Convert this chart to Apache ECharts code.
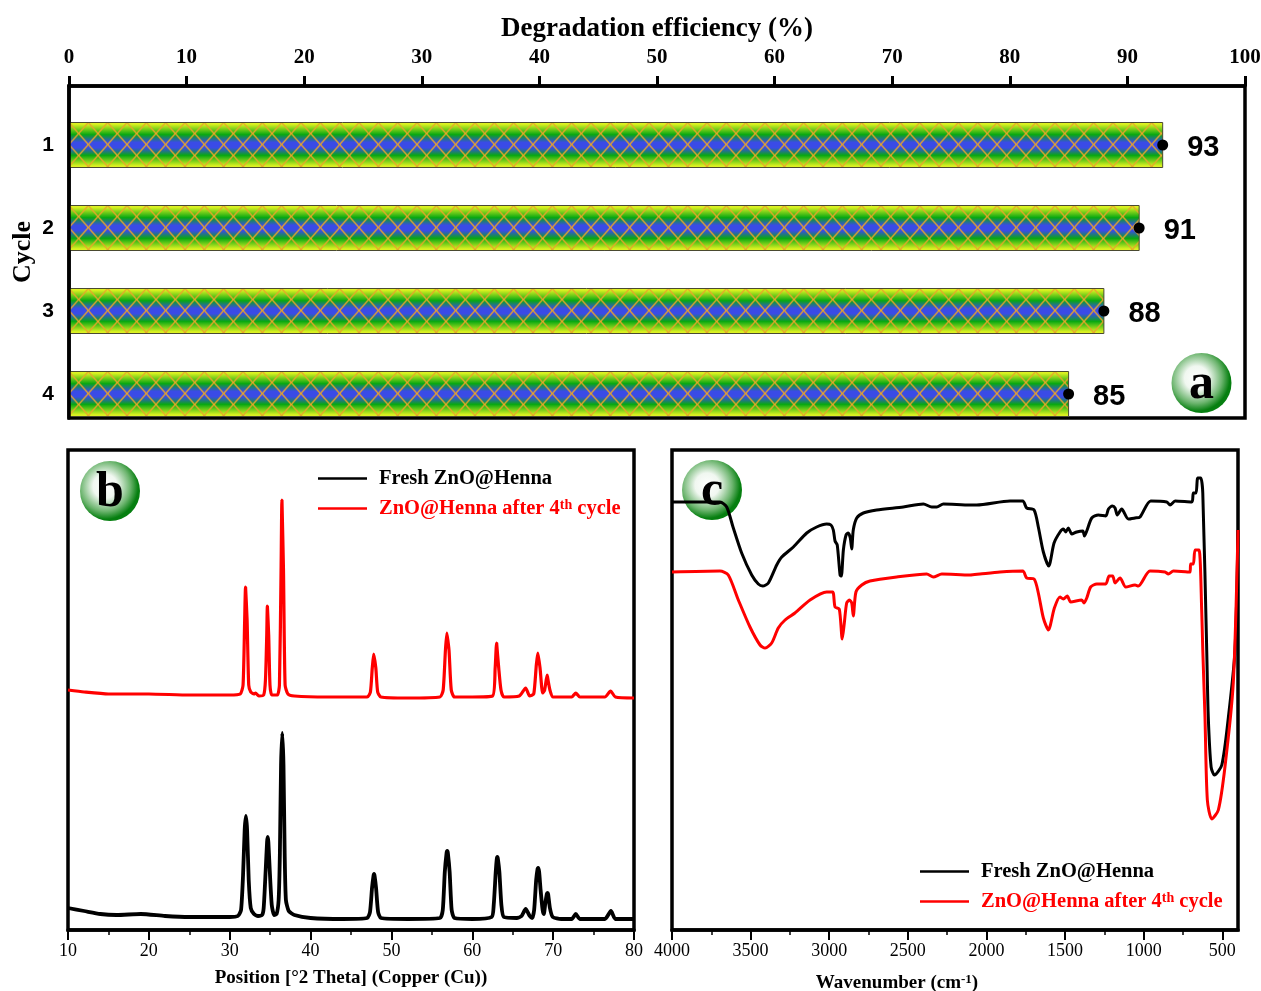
<!DOCTYPE html>
<html lang="en">
<head>
    <meta charset="UTF-8">
    <title>ZnO@Henna reuse, XRD and FTIR</title>
    <script type="text/javascript" src="https://cdn.jsdelivr.net/npm/echarts@6/dist/echarts.min.js"></script>
    <style type="text/css">
        html, body { margin: 0; padding: 0; background: #fff; }
        #chart { width: 1261px; height: 991px; }
    </style>
</head>
<body>
    <div id="chart"></div>
    <script type="text/javascript">
        // panel a
        const cycles = [1, 2, 3, 4]
        const efficiency = [93, 91, 88, 85]

        // panel b: 2 theta, y in arbitrary counts
        const xrdFresh = [[10,22],[12,19],[14,16],[16,15],[19,16],[22,14],[25,13],[28,13],[30,13],[31,14],[31.4,20],[31.65,55],[31.85,100],[32,114],[32.15,100],[32.35,50],[32.6,22],[33,16],[33.5,14],[34,15],[34.2,22],[34.45,60],[34.62,88],[34.7,93],[34.78,88],[34.95,60],[35.2,25],[35.5,15],[35.8,16],[36.05,30],[36.2,75],[36.35,165],[36.5,197],[36.65,165],[36.8,75],[36.95,30],[37.3,19],[38,15],[40,12],[44,11],[47,12],[47.35,18],[47.6,42],[47.78,54],[47.85,56],[47.92,54],[48.1,42],[48.35,18],[48.7,12],[52,11],[56,12],[56.35,20],[56.6,58],[56.82,77],[56.9,79],[56.98,77],[57.2,58],[57.45,20],[57.8,12],[60,11],[62.4,13],[62.65,25],[62.9,58],[63.03,71],[63.1,73],[63.17,71],[63.35,58],[63.6,25],[63.9,13],[65.5,12],[66.1,14],[66.6,21],[67.1,14],[67.4,12],[67.65,20],[67.9,50],[68.07,61],[68.15,62],[68.27,58],[68.45,40],[68.7,20],[68.85,16],[69.02,26],[69.22,36],[69.3,37],[69.38,36],[69.6,22],[69.95,13],[71,11],[72.3,11],[72.8,16],[73.3,11],[76.4,11],[77.15,19],[77.7,11],[80,11]]
        const xrdUsed = [[10,240],[12,238],[15,236],[20,236],[25,235],[30,235],[31.3,236],[31.65,245],[31.85,310],[31.96,343],[32.04,343],[32.15,310],[32.35,245],[32.6,238],[33,236],[33.2,237],[33.6,234],[34.2,235],[34.42,250],[34.58,295],[34.66,324],[34.74,324],[34.82,295],[34.98,245],[35.2,235],[35.9,235],[36.15,245],[36.35,360],[36.46,430],[36.54,430],[36.65,360],[36.85,245],[37.2,236],[38,234],[42,233],[47,233],[47.4,238],[47.63,262],[47.81,276],[47.89,276],[48.07,262],[48.3,238],[48.7,233],[52,232],[56,233],[56.4,240],[56.68,280],[56.86,297],[56.94,297],[57.12,280],[57.4,240],[57.8,233],[60,233],[62.5,234],[62.83,262],[63.01,287],[63.09,287],[63.27,262],[63.55,240],[63.9,233],[65.8,234],[66.6,242],[67.1,234],[67.6,236],[67.92,265],[68.11,277],[68.19,277],[68.38,262],[68.7,237],[68.95,240],[69.26,255],[69.34,255],[69.6,240],[70,233],[72.3,233],[72.8,237],[73.3,233],[76.4,233],[77.1,239],[77.7,233],[80,232]]

        // panel c: wavenumber, y in arbitrary transmittance
        const ftirFresh = [[4000,428],[3695,428],[3652,423],[3612,403],[3557,377],[3493,355],[3451,346],[3423,344],[3387,347],[3334,365],[3302,373],[3228,383],[3143,397],[3080,403],[3016,406],[2989,405],[2974,400],[2963,389],[2949,385],[2931,355],[2923,354],[2910,380],[2893,395],[2879,397],[2866,392],[2857,381],[2847,400],[2825,412],[2783,417],[2698,420],[2529,423],[2401,426],[2348,423],[2316,423],[2274,426],[2104,425],[2062,425],[1850,429],[1769,429],[1744,422],[1697,420],[1670,403],[1638,378],[1604,364],[1570,387],[1532,398],[1511,401],[1496,398],[1479,402],[1457,396],[1426,398],[1387,399],[1377,394],[1362,399],[1330,412],[1288,415],[1241,414],[1224,421],[1199,424],[1182,422],[1168,415],[1140,421],[1097,411],[1055,412],[1023,413],[955,429],[853,428],[832,425],[800,429],[694,428],[684,437],[667,437],[656,452],[637,452],[624,437],[599,280],[589,213],[571,163],[550,155],[503,165],[461,213],[419,280],[400,400]]
        const ftirUsed = [[4000,358],[3695,359],[3642,355],[3578,330],[3504,303],[3440,285],[3408,282],[3366,287],[3324,302],[3281,310],[3218,317],[3122,330],[3016,338],[2978,338],[2963,323],[2936,321],[2917,291],[2904,307],[2889,327],[2872,330],[2857,327],[2847,314],[2830,338],[2793,345],[2741,349],[2571,353],[2380,356],[2338,353],[2284,356],[2104,355],[2041,356],[1914,358],[1769,359],[1744,352],[1697,351],[1670,337],[1638,312],[1606,300],[1568,322],[1532,333],[1511,331],[1486,334],[1464,328],[1394,330],[1379,327],[1362,332],[1337,343],[1298,346],[1241,346],[1220,354],[1197,354],[1182,347],[1150,352],[1114,343],[1055,345],[1034,344],[960,359],[864,358],[843,356],[811,359],[705,358],[701,366],[684,366],[673,380],[648,380],[631,320],[624,280],[610,213],[595,130],[567,111],[525,120],[483,163],[430,247],[400,400]]

        const freshName = "Fresh ZnO@Henna"
        const usedName = "ZnO@Henna after 4th cycle"
        const wnMajor = [500, 1000, 1500, 2000, 2500, 3000, 3500, 4000]
        const wnMinor = [750, 1250, 1750, 2250, 2750, 3250, 3750]

        const serif = "Liberation Serif"
        const sans = "Liberation Sans"

        // orange cross hatch tile for the bars, three diamonds wide
        function hatchTile() {
            let c = document.createElement("canvas")
            c.width = 58
            c.height = 22
            let g = c.getContext("2d")
            g.strokeStyle = "#e8a62a"
            g.lineWidth = 1.3
            let w = 58 / 3
            for (let i = -1; i < 4; i++) {
                g.beginPath()
                g.moveTo(i * w, 0)
                g.lineTo((i + 1) * w, 22)
                g.moveTo((i + 1) * w, 0)
                g.lineTo(i * w, 22)
                g.stroke()
            }
            return c
        }
        const tile = hatchTile()

        const barFill = new echarts.graphic.LinearGradient(0, 0, 0, 1, [
            { offset: 0, color: "#e2f424" },
            { offset: 0.04, color: "#d8f020" },
            { offset: 0.27, color: "#08a812" },
            { offset: 0.44, color: "#3a4be6" },
            { offset: 0.56, color: "#3a4be6" },
            { offset: 0.73, color: "#08a812" },
            { offset: 0.96, color: "#d8f020" },
            { offset: 1, color: "#e2f424" }
        ])

        function renderBar(params, api) {
            let end = api.coord([api.value(0), api.value(1)])
            let start = api.coord([0, api.value(1)])
            let h = 45
            return {
                type: "rect",
                x: start[0],
                y: end[1] - h / 2,
                shape: { x: 0, y: 0, width: end[0] - start[0], height: h },
                style: { fill: barFill, stroke: null }
            }
        }
        function renderHatch(params, api) {
            let end = api.coord([api.value(0), api.value(1)])
            let start = api.coord([0, api.value(1)])
            let h = 45
            return {
                type: "rect",
                x: start[0],
                y: end[1] - h / 2,
                shape: { x: 0, y: 0, width: end[0] - start[0], height: h },
                style: { fill: { image: tile, repeat: "repeat" }, stroke: "#4a4a30", lineWidth: 1 }
            }
        }

        function badge(cx, cy, letter) {
            return {
                type: "group",
                x: cx,
                y: cy,
                z: 1,
                children: [
                    {
                        type: "circle",
                        z: 1,
                        shape: { cx: 0, cy: 0, r: 30 },
                        style: {
                            fill: new echarts.graphic.RadialGradient(0.42, 0.42, 0.58, [
                                { offset: 0, color: "#ffffff" },
                                { offset: 0.35, color: "#f0f7f0" },
                                { offset: 0.72, color: "#6db56f" },
                                { offset: 0.95, color: "#067f10" },
                                { offset: 1, color: "#067f10" }
                            ])
                        }
                    },
                    {
                        type: "text",
                        z: 1,
                        style: {
                            text: letter,
                            x: 0,
                            y: 2,
                            align: "center",
                            verticalAlign: "middle",
                            font: "bold 50px '" + serif + "'",
                            fill: "#000"
                        }
                    }
                ]
            }
        }

        function legendBlock(x, y) {
            return {
                left: x,
                top: y,
                orient: "vertical",
                itemWidth: 49,
                itemHeight: 2.5,
                itemGap: 9,
                icon: "rect",
                data: [
                    { name: freshName, textStyle: { color: "#000" } },
                    { name: usedName, textStyle: { color: "#f00" } }
                ],
                textStyle: {
                    fontFamily: serif,
                    fontWeight: "bold",
                    fontSize: 20.5,
                    padding: [0, 0, 0, 7],
                    rich: {
                        th: { fontFamily: serif, fontWeight: "bold", fontSize: 14, color: "#f00", verticalAlign: "top", lineHeight: 20 }
                    }
                },
                formatter: function (name) {
                    return name.replace("4th", "4{th|th}")
                }
            }
        }

        function spectrumLabel() {
            return { color: "#000", fontFamily: serif, fontSize: 18, margin: 12 }
        }
        function spectrumName() {
            return { color: "#000", fontFamily: serif, fontWeight: "bold", fontSize: 19 }
        }

        let chart = echarts.init(document.getElementById("chart"), null, { renderer: "canvas" })
        let option = {
            animation: false,
            backgroundColor: "#fff",
            grid: [
                { left: 69, top: 86, width: 1176, height: 332, show: true, borderColor: "#000", borderWidth: 3.5, outerBoundsMode: "none" },
                { left: 68, top: 450, width: 566, height: 480, show: true, borderColor: "#000", borderWidth: 3.5, outerBoundsMode: "none" },
                { left: 672, top: 450, width: 566, height: 480, show: true, borderColor: "#000", borderWidth: 3.5, outerBoundsMode: "none" }
            ],
            xAxis: [
                {
                    gridIndex: 0, type: "value", position: "top", min: 0, max: 100, interval: 10,
                    name: "Degradation efficiency (%)", nameLocation: "middle", nameGap: 43,
                    nameTextStyle: { color: "#000", fontFamily: serif, fontWeight: "bold", fontSize: 27 },
                    axisLine: { show: true, lineStyle: { color: "#000", width: 3.5 } },
                    axisTick: { show: true, length: 10, lineStyle: { color: "#000", width: 3 } },
                    axisLabel: { color: "#000", fontFamily: serif, fontWeight: "bold", fontSize: 21, margin: 18 },
                    splitLine: { show: false }
                },
                {
                    gridIndex: 1, type: "value", position: "bottom", min: 10, max: 80, interval: 10,
                    name: "Position [°2 Theta] (Copper (Cu))", nameLocation: "middle", nameGap: 39,
                    nameTextStyle: spectrumName(),
                    axisLine: { show: true, lineStyle: { color: "#000", width: 3.5 } },
                    axisTick: { show: true, length: 10, lineStyle: { color: "#000", width: 2 } },
                    minorTick: { show: true, splitNumber: 2, length: 5, lineStyle: { color: "#000", width: 1.5 } },
                    axisLabel: spectrumLabel(),
                    splitLine: { show: false }
                },
                {
                    gridIndex: 2, type: "value", position: "bottom", inverse: true, min: 400, max: 4000,
                    name: "Wavenumber (cm{sup|-1})", nameLocation: "middle", nameGap: 43,
                    nameTextStyle: Object.assign(spectrumName(), {
                        padding: [0, 116, 0, 0],
                        rich: { sup: { fontFamily: serif, fontWeight: "bold", fontSize: 13, color: "#000", verticalAlign: "top", lineHeight: 20 } }
                    }),
                    axisLine: { show: true, lineStyle: { color: "#000", width: 3.5 } },
                    axisTick: { show: true, length: 10, customValues: wnMajor, lineStyle: { color: "#000", width: 2 } },
                    axisLabel: Object.assign(spectrumLabel(), { customValues: wnMajor, formatter: (v) => String(v) }),
                    splitLine: { show: false }
                },
                {
                    // second axis only for the short ticks between the labelled ones
                    gridIndex: 2, type: "value", position: "bottom", inverse: true, min: 400, max: 4000,
                    axisLine: { show: false },
                    axisTick: { show: true, length: 5, customValues: wnMinor, lineStyle: { color: "#000", width: 1.5 } },
                    axisLabel: { show: false },
                    splitLine: { show: false }
                }
            ],
            yAxis: [
                {
                    gridIndex: 0, type: "value", inverse: true, min: 0.289, max: 4.289, z: 6,
                    name: "Cycle", nameLocation: "middle", nameGap: 33, nameRotate: 90, nameMoveOverlap: false,
                    nameTextStyle: { color: "#000", fontFamily: serif, fontWeight: "bold", fontSize: 26 },
                    axisLine: { show: true, lineStyle: { color: "#000", width: 3.5 } },
                    axisTick: { show: false },
                    axisLabel: { color: "#000", fontFamily: sans, fontWeight: "bold", fontSize: 21, margin: 15, customValues: cycles },
                    splitLine: { show: false }
                },
                { gridIndex: 1, type: "value", min: 0, max: 480, show: false },
                { gridIndex: 2, type: "value", min: 0, max: 480, show: false }
            ],
            legend: [legendBlock(313, 463), legendBlock(915, 856)],
            graphic: [badge(1201.5, 383, "a"), badge(110, 491, "b"), badge(712, 490, "c")],
            series: [
                {
                    type: "custom", xAxisIndex: 0, yAxisIndex: 0, renderItem: renderBar, clip: false,
                    data: efficiency.map((v, i) => [v, cycles[i]]), encode: { x: 0, y: 1 }
                },
                {
                    type: "custom", xAxisIndex: 0, yAxisIndex: 0, renderItem: renderHatch, clip: false,
                    data: efficiency.map((v, i) => [v, cycles[i]]), encode: { x: 0, y: 1 }
                },
                {
                    type: "scatter", xAxisIndex: 0, yAxisIndex: 0, symbolSize: 11, z: 5,
                    itemStyle: { color: "#000", opacity: 1 },
                    data: efficiency.map((v, i) => [v, cycles[i]]),
                    label: {
                        show: true, position: "right", distance: 20, offset: [-1, 3], color: "#000",
                        fontFamily: sans, fontWeight: "bold", fontSize: 29,
                        formatter: (p) => p.value[0]
                    }
                },
                {
                    name: freshName, type: "line", xAxisIndex: 1, yAxisIndex: 1, symbol: "none", smooth: 0.2,
                    data: xrdFresh, lineStyle: { color: "#000", width: 3.8 }, itemStyle: { color: "#000" }
                },
                {
                    name: usedName, type: "line", xAxisIndex: 1, yAxisIndex: 1, symbol: "none", smooth: 0.2,
                    data: xrdUsed, lineStyle: { color: "#f00", width: 3.2 }, itemStyle: { color: "#f00" }
                },
                {
                    name: freshName, type: "line", xAxisIndex: 2, yAxisIndex: 2, symbol: "none", smooth: 0.25,
                    data: ftirFresh, lineStyle: { color: "#000", width: 3 }, itemStyle: { color: "#000" }
                },
                {
                    name: usedName, type: "line", xAxisIndex: 2, yAxisIndex: 2, symbol: "none", smooth: 0.25,
                    data: ftirUsed, lineStyle: { color: "#f00", width: 3 }, itemStyle: { color: "#f00" }
                }
            ]
        }
        chart.setOption(option)
    </script>
</body>
</html>
